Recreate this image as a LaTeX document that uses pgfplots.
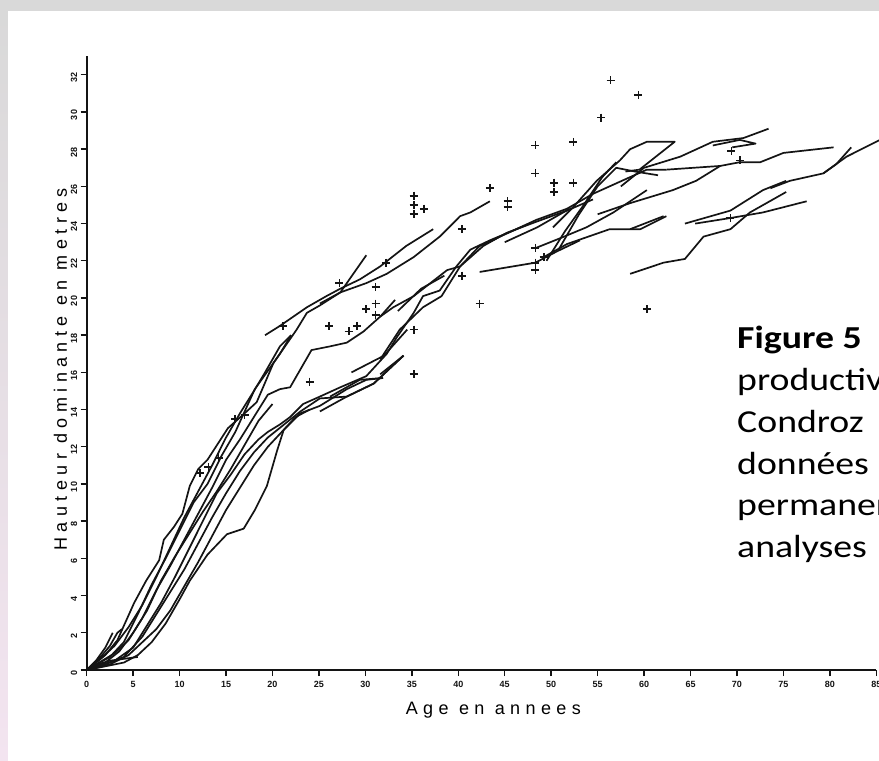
\documentclass[border=0pt]{standalone}
\usepackage{fontspec}
\usepackage{pgfplots}
\pgfplotsset{compat=1.18}
\setmainfont{Liberation Sans}
\newfontfamily\tickfont{Liberation Sans}
\newfontfamily\labfont[LetterSpace=30]{Liberation Sans}
\newfontfamily\calibri{Carlito}
\definecolor{slidegray}{RGB}{217,217,217}
\definecolor{slidepink}{RGB}{243,228,240}
\definecolor{ink}{RGB}{20,20,20}
\begin{document}
\begin{tikzpicture}[x=1pt,y=1pt]
\useasboundingbox (0,0) rectangle (879,761);
\fill[slidegray] (0,0) rectangle (879,761);
\shade[top color=slidegray, bottom color=slidepink] (0,0) rectangle (8,750);
\fill[white] (8,0) rectangle (879,750);
\begin{scope}
\clip (0,0) rectangle (879,761);
\begin{axis}[
  at={(86.7pt,91pt)}, anchor=south west,
  scale only axis, width=789.6pt, height=613.8pt,
  xmin=0, xmax=85, ymin=0, ymax=33,
  axis lines*=left,
  axis line style={line width=1.8pt, ink},
  tick style={line width=1.4pt, ink},
  tick align=outside, major tick length=6pt,
  xtick={0,5,...,85}, ytick={0,2,...,32},
  /pgf/number format/assume math mode=true,
  tick label style={font=\tickfont\bfseries\fontsize{9}{9}\selectfont, ink},
  xticklabel style={yshift=-2pt},
  yticklabel style={rotate=90, anchor=south, xshift=-3pt},
  xlabel={\labfont\fontsize{18}{18}\selectfont Age en annees},
  ylabel={\labfont\fontsize{18}{18}\selectfont Hauteur dominante en metres},
  xlabel style={at={(axis description cs:0.515,0)}, anchor=north, yshift=-29pt},
  ylabel style={at={(axis description cs:0,0.49)}, anchor=south, yshift=16pt},
  cycle list={ink,line width=1.7pt,mark=none,line join=round\\},
  clip=false,
]
% ---- early growth curves starting at the origin ----
\addplot coordinates {(0,0)(2,0.8)(3.3,1.6)(5.1,3.6)(6.4,4.8)(7.8,5.9)(8.3,7.0)(9.4,7.7)(10.3,8.4)(11.1,9.9)(12.0,10.8)(13.0,11.3)(15.2,13.0)(17.0,13.8)(18.3,14.4)(20.1,16.5)(22.6,18.3)(23.7,19.2)(25.1,19.6)(27.3,20.3)(30.1,22.3)};
\addplot coordinates {(0,0)(2.5,0.7)(4,1.5)(5.5,3.0)(7,4.6)(8.5,6.0)(10,7.5)(11.5,9.0)(13,10.0)(14.5,11.5)(16,12.8)(18.1,15.1)(20.8,17.0)(22,18.0)};
\addplot coordinates {(0,0)(3,0.9)(4.5,1.6)(6,2.8)(7.5,4.3)(9,5.6)(10.5,7.0)(12,8.4)(13.5,9.8)(15,11.3)(16.5,12.4)(18,13.6)(19.5,14.8)(20.8,15.1)(21.9,15.2)(24.2,17.2)(26.2,17.4)(28.0,17.6)(29.8,18.2)(31.6,19.0)(33.2,19.9)};
\addplot coordinates {(0,0)(3,0.5)(5,1.2)(6.5,2.4)(8,3.6)(9.5,5.0)(11,6.5)(12.5,8.0)(14,9.5)(15.5,10.5)(17,11.6)(18.5,12.4)(19.5,12.8)(20.8,13.2)(21.9,13.6)(23.3,14.3)(25.1,14.7)(27.3,15.2)(30.1,15.8)(32.3,17.0)(33.4,17.9)(35.2,19.2)(36.2,20.1)(38.0,20.4)(39.8,21.7)(41.3,22.6)(43.4,23.1)(47.7,24.0)};
\addplot coordinates {(0,0)(2,0.2)(4,0.4)(5.5,0.8)(7,1.5)(8.5,2.5)(10,3.8)(11.1,4.8)(13,6.2)(15.1,7.3)(16.9,7.6)(18.1,8.6)(19.4,9.9)(20.5,11.8)(21.2,12.9)(23.0,13.8)(25.1,14.2)(28.0,15.1)(30.1,15.6)(31.9,15.7)};
\addplot coordinates {(0,0)(2,0.3)(4,0.7)(6,1.8)(7.5,3.0)(9,4.2)(10.5,5.4)(12,6.8)(13.5,8.2)(15,9.5)(16.5,10.7)(18,11.7)(19.5,12.5)(21,13.1)(23,13.9)(25.1,14.6)(28.0,14.7)(30.9,15.4)(34.1,16.9)};
\addplot coordinates {(0,0)(1.5,0.6)(3,1.3)(4.5,2.3)(6,3.5)(7.5,5.0)(9,6.6)(10.5,8.2)(12,9.6)(13.5,11.0)(15,12.5)(16.5,13.8)(18,15.0)(19.2,16.0)(20.8,17.4)(22,18.0)};
\addplot coordinates {(0,0)(2,0.4)(3.5,1.0)(5,2.0)(6.5,3.2)(8,4.8)(9.5,6.1)(11,7.3)(12.5,8.5)(14,9.6)(15.5,10.8)(17,12.1)(18.5,13.4)(20,14.3)};
\addplot coordinates {(0,0)(2.5,0.3)(4.5,0.8)(6,1.5)(7.5,2.2)(9,3.2)(10.5,4.5)(12,5.8)(13.5,7.2)(15,8.6)(16.5,9.8)(18,11.0)(19.5,12.0)(21,12.8)(22.5,13.6)(24,14.0)};
\addplot coordinates {(0,0)(1,0.5)(2,1.2)(2.8,2.0)};
\addplot coordinates {(0.3,0.1)(1.5,0.7)(2.5,1.3)(3.3,2.0)(3.8,2.2)};
\addplot coordinates {(0,0)(1.2,0.3)(2.5,0.5)(4,0.6)(5.5,0.7)};
% ---- middle segments ----
\addplot coordinates {(19.2,18.0)(20.8,18.5)(23.7,19.5)(25.8,20.1)(27.3,20.5)(29.4,21.0)(31.6,21.7)(34.4,22.8)(37.3,23.7)};
\addplot coordinates {(25.1,19.7)(27.3,20.3)(30.1,20.8)(32.3,21.3)(35.2,22.2)(38.0,23.3)(40.2,24.4)(41.3,24.6)(43.4,25.2)};
\addplot coordinates {(31.6,19.0)(33.0,19.5)(35.2,20.1)(38.8,21.5)(40.2,21.7)(42.7,22.8)(45.2,23.5)(48.4,24.1)(51.7,24.7)(54.5,25.3)};
\addplot coordinates {(31.6,16.7)(33.7,18.3)(36.2,19.5)(38.2,20.1)(40.2,21.7)(42.3,22.8)(44.1,23.2)};
\addplot coordinates {(25.1,13.9)(28.0,14.7)(30.9,15.4)(34.1,16.9)};
\addplot coordinates {(26.2,14.7)(29.4,15.6)(31.9,15.7)};
\addplot coordinates {(28.5,16.0)(32.0,16.9)(34.5,18.3)};
\addplot coordinates {(31.6,15.9)(34.1,16.9)};
\addplot coordinates {(33.5,19.3)(36.0,20.5)(38.5,21.2)};
% ---- later segments ----
\addplot coordinates {(42.3,21.4)(48.3,21.9)(50.6,22.5)(53.1,23.1)};
\addplot coordinates {(48.4,22.7)(50.9,23.2)(53.8,23.8)(56.7,24.6)(60.3,25.8)};
\addplot coordinates {(49.2,22.2)(51.7,22.9)(56.3,23.7)(59.6,23.7)(62.4,24.4)};
\addplot coordinates {(50.2,23.8)(52.4,24.9)(54.9,26.3)(57.4,27.4)(58.5,28.0)(60.3,28.4)(63.3,28.4)(59.5,26.9)(58.0,26.8)};
\addplot coordinates {(42.3,22.8)(44.5,23.3)(48.4,24.2)(51.7,24.8)(54.5,25.6)(58.5,26.5)(60.3,26.9)(62.4,26.9)};
\addplot coordinates {(62.4,26.9)(68.2,27.1)(70.3,27.3)(72.5,27.3)(75.0,27.8)(80.4,28.1)};
\addplot coordinates {(57.5,26.0)(60,27.0)(63.9,27.6)(67.4,28.4)(70.7,28.6)(73.4,29.1)};
\addplot coordinates {(67.4,28.2)(70.3,28.5)(72,28.3)(69.5,28.1)};
\addplot coordinates {(55,24.5)(58.5,25.1)(63.1,25.8)(65.6,26.3)(68.2,27.1)};
\addplot coordinates {(58.5,23.7)(62.1,24.4)};
\addplot coordinates {(58.5,21.3)(62.1,21.9)(64.4,22.1)(66.4,23.3)(69.3,23.7)(71.4,24.6)(75.3,25.7)};
\addplot coordinates {(64.4,24.0)(69.3,24.7)(72.8,25.8)(75.3,26.3)};
\addplot coordinates {(65.5,24.0)(69.3,24.3)(72.8,24.6)(77.5,25.2)};
\addplot coordinates {(73.6,25.9)(75.7,26.3)(79.3,26.7)(80.7,27.2)(82.3,28.1)};
\addplot coordinates {(79.3,26.7)(81.8,27.6)(85.4,28.5)};
\addplot coordinates {(49.5,22.0)(51.5,23.6)(53.5,25.0)(55.5,26.5)(57.0,27.3)};
\addplot coordinates {(50.8,22.6)(53.0,24.5)(55.0,26.0)(57.0,27.0)(59.0,26.8)(61.5,26.6)};
\addplot coordinates {(45,23.0)(48.5,23.8)(52,24.8)};
% ---- observed heights (plus marks) ----
\addplot[only marks, mark=+, mark size=4pt, ink, mark options={line width=1.7pt, solid}] coordinates {
(12.2,10.6)(13.1,10.9)(14.2,11.4)(16.0,13.5)(17.0,13.7)
(21.1,18.5)(24.0,15.5)(26.1,18.5)(27.2,20.8)(28.2,18.2)(29.1,18.5)
(30.1,19.4)(31.1,19.7)(31.1,19.1)(31.1,20.6)(32.2,21.9)
(35.2,25.5)(35.2,25.0)(35.2,24.5)(36.3,24.8)(35.2,18.3)(35.2,15.9)
(40.4,23.7)(40.4,21.2)(42.3,19.7)(43.4,25.9)(45.3,25.2)(45.3,24.9)
(48.3,28.2)(48.3,26.7)(48.3,22.7)(48.3,21.9)(48.3,21.5)(49.2,22.2)
(50.3,26.2)(50.3,25.7)(52.4,28.4)(52.4,26.2)(55.4,29.7)(56.4,31.7)
(59.4,30.9)(60.3,19.4)(69.4,27.9)(70.3,27.4)(69.3,24.3)};
\end{axis}
\node[anchor=base west, align=left, inner sep=0pt, xscale=1.18, transform shape,
      font=\calibri\fontsize{32}{41.7}\selectfont]
  at (737,203.5) {\textbf{Figure 5}\\productivité\\Condroz\\données\\permanentes\\analyses};
\end{scope}
\end{tikzpicture}
\end{document}
